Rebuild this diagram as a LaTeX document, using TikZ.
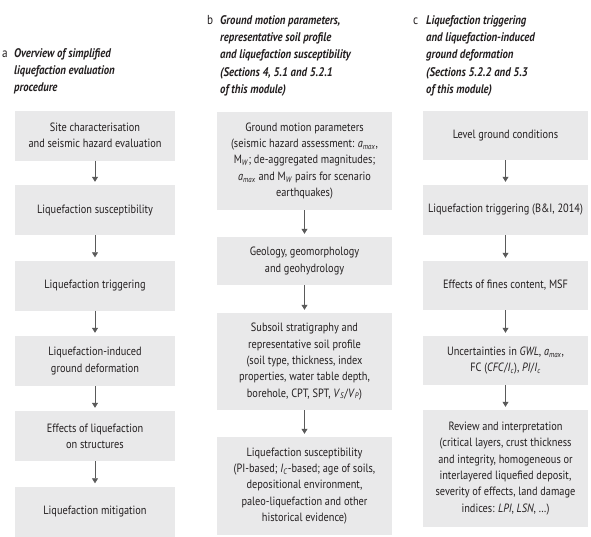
\documentclass[tikz,border=0pt]{standalone}
\usepackage{fontspec}
\setmainfont{PT Sans}[FakeStretch=0.86]
\usetikzlibrary{arrows.meta}
\definecolor{boxgray}{HTML}{E9E9EA}
\definecolor{arrgray}{HTML}{5A5A5A}
\definecolor{txt}{HTML}{231F20}
\newcommand{\amax}{\textit{a}\textsubscript{\textit{max}}}
\tikzset{
  box/.style={fill=boxgray, inner sep=0pt, align=center, text=txt,
    font=\fontsize{12}{16.3}\selectfont},
  arr/.style={draw=arrgray, line width=0.7pt, -{Triangle[width=6pt,length=5pt]}, shorten >=3pt},
  ttl/.style={anchor=north west, inner sep=0pt, align=left, text=txt,
    font=\fontsize{12.5}{17.4}\selectfont\bfseries\itshape},
  lett/.style={anchor=base west, inner sep=0pt, text=txt,
    font=\fontsize{13}{17.4}\selectfont},
}
\begin{document}
\begin{tikzpicture}[x=1pt,y=-1pt]
\useasboundingbox (0,0) rectangle (591,536);
% headers
\node[ttl] (ta) at (14,48) {Overview of simplified\\liquefaction evaluation\\procedure};
\node[lett] (la) at (2,57.5) {a};
\node[ttl] (tb) at (220,15) {Ground motion parameters,\\representative soil profile\\and liquefaction susceptibility\\(Sections 4, 5.1 and 5.2.1\\of this module)};
\node[lett] (lb) at (207,24.5) {b};
\node[ttl] (tc) at (426,15) {Liquefaction triggering\\and liquefaction-induced\\ground deformation\\(Sections 5.2.2 and 5.3\\of this module)};
\node[lett] (lc) at (413,24.5) {c};
% column a
\begin{scope}[every node/.style={box, minimum width=160pt, minimum height=50pt}]
\node (a1) at (95,135.5) {Site characterisation\\and seismic hazard evaluation};
\node (a2) at (95,210) {Liquefaction susceptibility};
\node (a3) at (95,285.5) {Liquefaction triggering};
\node (a4) at (95,361) {Liquefaction-induced\\ground deformation};
\node (a5) at (95,436) {Effects of liquefaction\\on structures};
\node (a6) at (95,511.5) {Liquefaction mitigation};
\end{scope}
% column b
\begin{scope}[every node/.style={box, minimum width=175pt}]
\node[minimum height=98pt] (b1) at (304.5,161) {Ground motion parameters\\(seismic hazard assessment: \amax,\\M\textsubscript{\textit{W}}; de-aggregated magnitudes;\\\amax{} and M\textsubscript{\textit{W}} pairs for scenario\\earthquakes)};
\node[minimum height=48pt] (b2) at (304.5,261) {Geology, geomorphology\\and geohydrology};
\node[minimum height=97pt] (b3) at (304.5,361.5) {Subsoil stratigraphy and\\representative soil profile\\(soil type, thickness, index\\properties, water table depth,\\borehole, CPT, SPT, \textit{V}\textsubscript{\textit{S}}/\textit{V}\textsubscript{\textit{P}})};
\node[minimum height=98pt] (b4) at (304.5,486) {Liquefaction susceptibility\\(PI-based; \textit{I}\textsubscript{\textit{C}}-based; age of soils,\\depositional environment,\\paleo-liquefaction and other\\historical evidence)};
\end{scope}
% column c
\begin{scope}[every node/.style={box, minimum width=165pt}]
\node[minimum height=49pt] (c1) at (505.5,135.5) {Level ground conditions};
\node[minimum height=50pt] (c2) at (505.5,210) {Liquefaction triggering (B\&I, 2014)};
\node[minimum height=49pt] (c3) at (505.5,285.5) {Effects of fines content, MSF};
\node[minimum height=49pt] (c4) at (505.5,360.5) {Uncertainties in \textit{GWL}, \amax,\\FC (\textit{CFC}/\textit{I}\textsubscript{\textit{c}}), \textit{PI}/\textit{I}\textsubscript{\textit{c}}};
\node[minimum height=117pt] (c5) at (505.5,468.5) {Review and interpretation\\(critical layers, crust thickness\\and integrity, homogeneous or\\interlayered liquefied deposit,\\severity of effects, land damage\\indices: \textit{LPI}, \textit{LSN}, \dots)};
\end{scope}
% arrows
\foreach \u/\v in {a1/a2,a2/a3,a3/a4,a4/a5,a5/a6,b1/b2,b2/b3,b3/b4,c1/c2,c2/c3,c3/c4,c4/c5}
  \draw[arr] (\u.south) -- (\v.north);
\end{tikzpicture}
\end{document}
